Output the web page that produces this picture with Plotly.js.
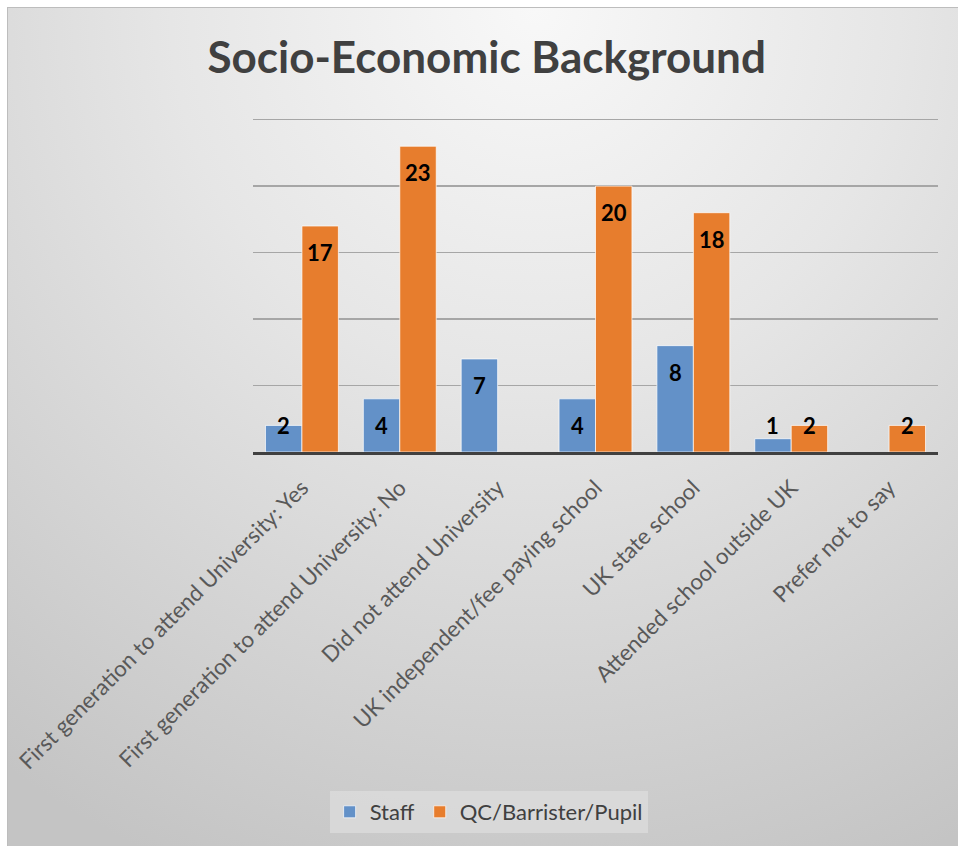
<!DOCTYPE html>
<html>
<head>
<meta charset="utf-8">
<script src="https://cdn.plot.ly/plotly-3.0.1.min.js"></script>
<style>
  html, body { margin: 0; padding: 0; background: #ffffff; }
  #frame {
    position: absolute; left: 7px; top: 7px; width: 960px; height: 850px;
    border: 1px solid #bdbdbd; box-sizing: border-box;
    background: radial-gradient(ellipse 95% 110% at 55% 0%, #f8f8f8 0%, #e6e6e6 40%, #c4c4c4 100%);
  }
  #chart { position: absolute; left: 0; top: 0; width: 958px; height: 846px; }
</style>
</head>
<body>
<div id="frame"></div>
<div id="chart"></div>
<script>
const categories = [
  "First generation to attend University: Yes",
  "First generation to attend University: No",
  "Did not attend University",
  "UK independent/fee paying school",
  "UK state school",
  "Attended school outside UK",
  "Prefer not to say"
];
const staffValues = [2, 4, 7, 4, 8, 1, null];
const qcValues = [17, 23, null, 20, 18, 2, 2];
const seriesNames = ["Staff", "QC/Barrister/Pupil"];

const BARGAP = 0.255;
const FONT = "Lato, 'Open Sans', sans-serif";

const traces = [
  {
    type: "bar", name: seriesNames[0], x: categories, y: staffValues,
    marker: { color: "rgb(99,145,200)", line: { color: "rgba(255,255,255,0.7)", width: 1 } },
    hoverinfo: "none"
  },
  {
    type: "bar", name: seriesNames[1], x: categories, y: qcValues,
    marker: { color: "rgb(231,125,45)", line: { color: "rgba(255,255,255,0.7)", width: 1 } },
    hoverinfo: "none"
  }
];

const annotations = [];
const off = (1 - BARGAP) / 4;
[staffValues, qcValues].forEach((vals, s) => {
  vals.forEach((v, i) => {
    if (v === null) return;
    annotations.push({
      x: i + (s === 0 ? -off : off), y: Math.max(v - 2, 2),
      xref: "x", yref: "y", text: String(v), showarrow: false,
      xanchor: "center", yanchor: "middle",
      font: { family: FONT, size: 22, color: "#000000", weight: "bold" }
    });
  });
});

const layout = {
  width: 958, height: 846,
  paper_bgcolor: "rgba(0,0,0,0)", plot_bgcolor: "rgba(0,0,0,0)",
  margin: { l: 253, r: 20, t: 113, b: 391 },
  title: {
    text: "<b>Socio-Economic Background</b>",
    x: 0.508, xanchor: "center", y: 0.932, yanchor: "middle",
    font: { family: FONT, size: 44, color: "#404040" }
  },
  barmode: "group", bargap: BARGAP, bargroupgap: 0,
  xaxis: {
    type: "category", tickangle: -45, showgrid: false,
    showline: true, linecolor: "#404040", linewidth: 3,
    ticks: "", ticklabelstandoff: 11,
    tickfont: { family: FONT, size: 22.3, color: "#595959" },
    fixedrange: true
  },
  yaxis: {
    range: [0, 25.5], dtick: 5, showticklabels: false, zeroline: false,
    showgrid: true, gridcolor: "#a6a6a6", gridwidth: 1.5, fixedrange: true
  },
  showlegend: true,
  legend: {
    orientation: "h", x: 0.344, xanchor: "center", y: -1.0, yanchor: "top",
    bgcolor: "rgba(228,228,228,0.55)", borderwidth: 0,
    font: { family: FONT, size: 22, color: "#404040" },
    itemwidth: 30
  },
  annotations: annotations
};

Plotly.newPlot("chart", traces, layout, { displayModeBar: false, staticPlot: true });
</script>
</body>
</html>
